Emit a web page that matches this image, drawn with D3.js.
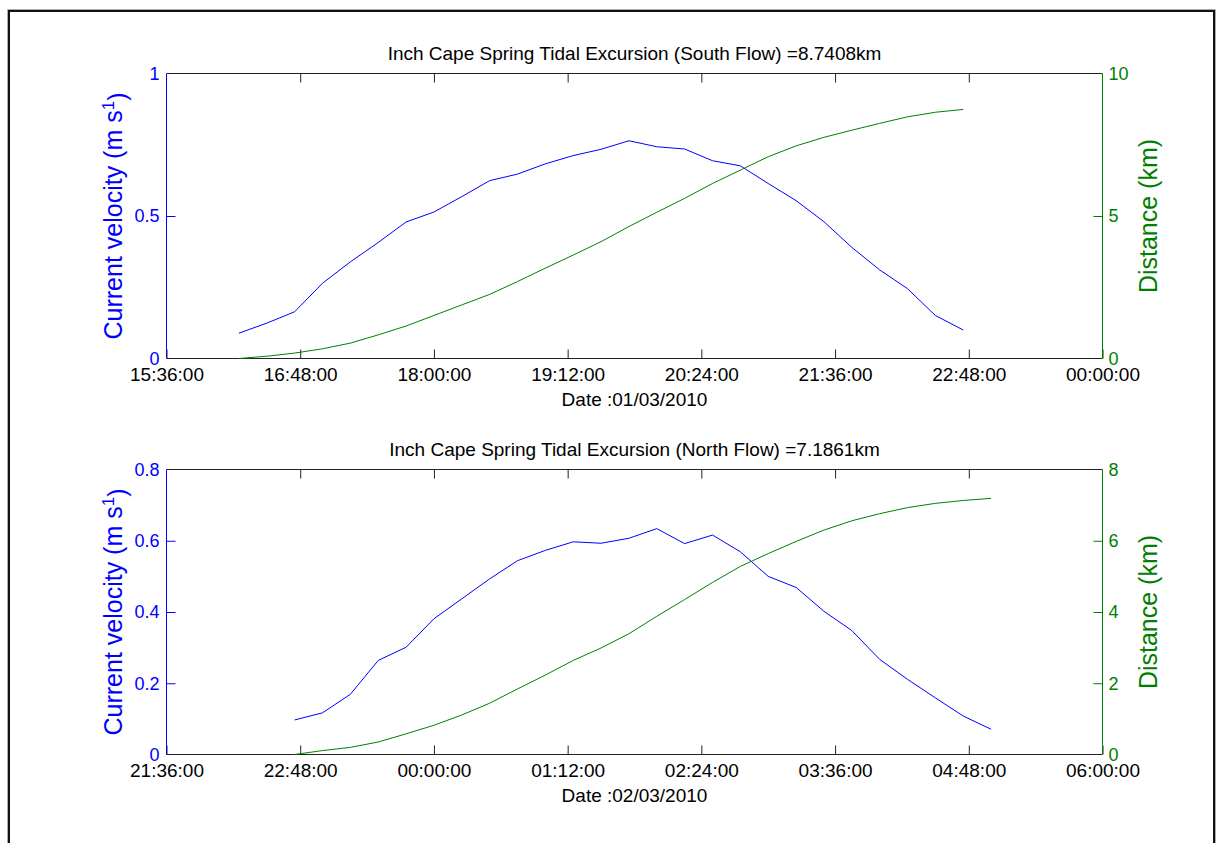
<!DOCTYPE html>
<html lang="en">
<head>
<meta charset="utf-8">
<title>Inch Cape tidal excursion</title>
<script src="https://d3js.org/d3.v7.min.js"></script>
<style>
  body{margin:0;background:#fff;font-family:"Liberation Sans",Arial,Helvetica,sans-serif;}
  svg text{font-family:"Liberation Sans",Arial,Helvetica,sans-serif;}
</style>
</head>
<body>
<div id="chart"></div>
<script>
// south flow, 01/03/2010
var southTimes = ["16:15","16:30","16:45","17:00","17:15","17:30","17:45","18:00","18:15","18:30",
                  "18:45","19:00","19:15","19:30","19:45","20:00","20:15","20:30","20:45","21:00",
                  "21:15","21:30","21:45","22:00","22:15","22:30","22:45"]
var southVelocity = [0.089,0.124,0.164,0.264,0.339,0.407,0.479,0.514,0.568,0.624,
                     0.647,0.683,0.712,0.734,0.764,0.743,0.735,0.694,0.676,0.614,
                     0.554,0.480,0.390,0.311,0.245,0.151,0.100]
var southDistance = [0,0.08,0.19,0.34,0.54,0.83,1.14,1.51,1.88,2.25,
                     2.70,3.17,3.63,4.10,4.63,5.13,5.62,6.14,6.61,7.08,
                     7.46,7.76,8.01,8.25,8.48,8.64,8.74]

// north flow, 01/03 -> 02/03/2010
var northTimes = ["22:45","23:00","23:15","23:30","23:45","00:00","00:15","00:30","00:45","01:00",
                  "01:15","01:30","01:45","02:00","02:15","02:30","02:45","03:00","03:15","03:30",
                  "03:45","04:00","04:15","04:30","04:45","05:00"]
var northVelocity = [0.097,0.117,0.169,0.264,0.301,0.381,0.437,0.493,0.544,0.573,
                     0.597,0.593,0.607,0.634,0.592,0.616,0.569,0.500,0.469,0.402,
                     0.348,0.267,0.211,0.159,0.108,0.071]
var northDistance = [0,0.11,0.20,0.35,0.58,0.82,1.11,1.44,1.84,2.23,
                     2.64,2.99,3.39,3.88,4.35,4.83,5.28,5.64,5.98,6.30,
                     6.56,6.76,6.93,7.05,7.13,7.19]

var southTicks = ["15:36","16:48","18:00","19:12","20:24","21:36","22:48","00:00"]
var northTicks = ["21:36","22:48","00:00","01:12","02:24","03:36","04:48","06:00"]
var southVelTicks = [0,0.5,1]
var southDistTicks = [0,5,10]
var northVelTicks = [0,0.2,0.4,0.6,0.8]
var northDistTicks = [0,2,4,6,8]

var W = 1216, H = 843
var svg = d3.select("#chart").append("svg").attr("width",W).attr("height",H)

// outer frame (figure border)
svg.append("path").attr("d","M7.5,860V9.5H1215.5V860").attr("fill","none").attr("stroke","#aaa").attr("stroke-width",1)
svg.append("path").attr("d","M9,860V11H1214V860").attr("fill","none").attr("stroke","#111").attr("stroke-width",2)

// turn "HH:MM" strings into dates, rolling over to the next day after midnight
function toDates(list, day){
    var out = [], prev = null, d = day
    list.forEach(function(s){
        var p = s.split(":")
        var t = new Date(2010, 2, d, +p[0], +p[1])
        if(prev && t < prev){ d += 1; t = new Date(2010, 2, d, +p[0], +p[1]) }
        out.push(t); prev = t
    })
    return out
}

function panel(opt){
    var left = 166.5, right = 1102.5, top = opt.top, bottom = opt.top + 285
    var tickDates = toDates(opt.ticks, opt.day)
    var x = d3.scaleTime().domain([tickDates[0], tickDates[tickDates.length-1]]).range([left,right])
    var yV = d3.scaleLinear().domain([0, opt.velTicks[opt.velTicks.length-1]]).range([bottom,top])
    var yD = d3.scaleLinear().domain([0, opt.distTicks[opt.distTicks.length-1]]).range([bottom,top])
    var g = svg.append("g")
    var fmt = d3.timeFormat("%H:%M:%S")

    // x axis bottom, ticks pointing inward
    var xb = g.append("g").attr("transform","translate(0,"+bottom+")")
        .call(d3.axisBottom(x).tickValues(tickDates).tickFormat(fmt).tickSizeInner(-9).tickSizeOuter(0).tickPadding(9))
    xb.select(".domain").remove()
    xb.selectAll("line").attr("stroke","#222")
    xb.selectAll("text").attr("font-size",19).attr("fill","#000")
    // mirrored ticks on top
    var xt = g.append("g").attr("transform","translate(0,"+top+")")
        .call(d3.axisTop(x).tickValues(tickDates.slice(1,-1)).tickFormat("").tickSizeInner(-9).tickSizeOuter(0))
    xt.select(".domain").remove()
    xt.selectAll("line").attr("stroke","#222")

    // left axis (velocity)
    var la = g.append("g").attr("transform","translate("+left+",0)")
        .call(d3.axisLeft(yV).tickValues(opt.velTicks).tickFormat(d3.format("~g")).tickSizeInner(-9).tickSizeOuter(0).tickPadding(7))
    la.select(".domain").remove()
    la.selectAll("line").attr("stroke","#0000ff")
    la.selectAll(".tick").filter(function(d){ return d==0 || d==yV.domain()[1] }).select("line").remove()
    la.selectAll("text").attr("font-size",18).attr("fill","#0000ff")

    // right axis (distance)
    var ra = g.append("g").attr("transform","translate("+right+",0)")
        .call(d3.axisRight(yD).tickValues(opt.distTicks).tickFormat(d3.format("~g")).tickSizeInner(-9).tickSizeOuter(0).tickPadding(6))
    ra.select(".domain").remove()
    ra.selectAll("line").attr("stroke","#008000")
    ra.selectAll(".tick").filter(function(d){ return d==0 || d==yD.domain()[1] }).select("line").remove()
    ra.selectAll("text").attr("font-size",18).attr("fill","#008000")

    // box
    g.append("line").attr("x1",left).attr("x2",right).attr("y1",top).attr("y2",top).attr("stroke","#222")
    g.append("line").attr("x1",left).attr("x2",right).attr("y1",bottom).attr("y2",bottom).attr("stroke","#222")
    g.append("line").attr("x1",left).attr("x2",left).attr("y1",top).attr("y2",bottom).attr("stroke","#0000ff")
    g.append("line").attr("x1",right).attr("x2",right).attr("y1",top).attr("y2",bottom).attr("stroke","#008000")

    // series
    var dates = toDates(opt.times, opt.day)
    var lineV = d3.line().x(function(d,i){ return x(dates[i]) }).y(function(d){ return yV(d) })
    var lineD = d3.line().x(function(d,i){ return x(dates[i]) }).y(function(d){ return yD(d) })
    g.append("path").datum(opt.velocity).attr("d",lineV).attr("fill","none").attr("stroke","#0000ff").attr("stroke-width",1)
    g.append("path").datum(opt.distance).attr("d",lineD).attr("fill","none").attr("stroke","#008000").attr("stroke-width",1)

    // texts
    g.append("text").attr("x",(left+right)/2).attr("y",top-14).attr("text-anchor","middle")
        .attr("font-size",19).attr("fill","#000").text(opt.title)
    g.append("text").attr("x",(left+right)/2).attr("y",bottom+47).attr("text-anchor","middle")
        .attr("font-size",19).attr("fill","#000").text(opt.dateLabel)

    var cy = (top+bottom)/2
    var yl = g.append("text").attr("transform","translate(122,"+cy+") rotate(-90)")
        .attr("text-anchor","middle").attr("font-size",25).attr("fill","#0000ff")
    yl.append("tspan").text("Current velocity (m s")
    yl.append("tspan").attr("dy","-0.45em").attr("font-size",17).text("1")
    yl.append("tspan").attr("dy","0.45em").text(")")

    g.append("text").attr("transform","translate(1157,"+cy+") rotate(-90)")
        .attr("text-anchor","middle").attr("font-size",25).attr("fill","#008000").text("Distance (km)")
}

panel({top:73.5, day:1, ticks:southTicks, times:southTimes, velocity:southVelocity, distance:southDistance,
       velTicks:southVelTicks, distTicks:southDistTicks,
       title:"Inch Cape Spring Tidal Excursion (South Flow) =8.7408km", dateLabel:"Date :01/03/2010"})
panel({top:469.5, day:1, ticks:northTicks, times:northTimes, velocity:northVelocity, distance:northDistance,
       velTicks:northVelTicks, distTicks:northDistTicks,
       title:"Inch Cape Spring Tidal Excursion (North Flow) =7.1861km", dateLabel:"Date :02/03/2010"})
</script>
</body>
</html>
